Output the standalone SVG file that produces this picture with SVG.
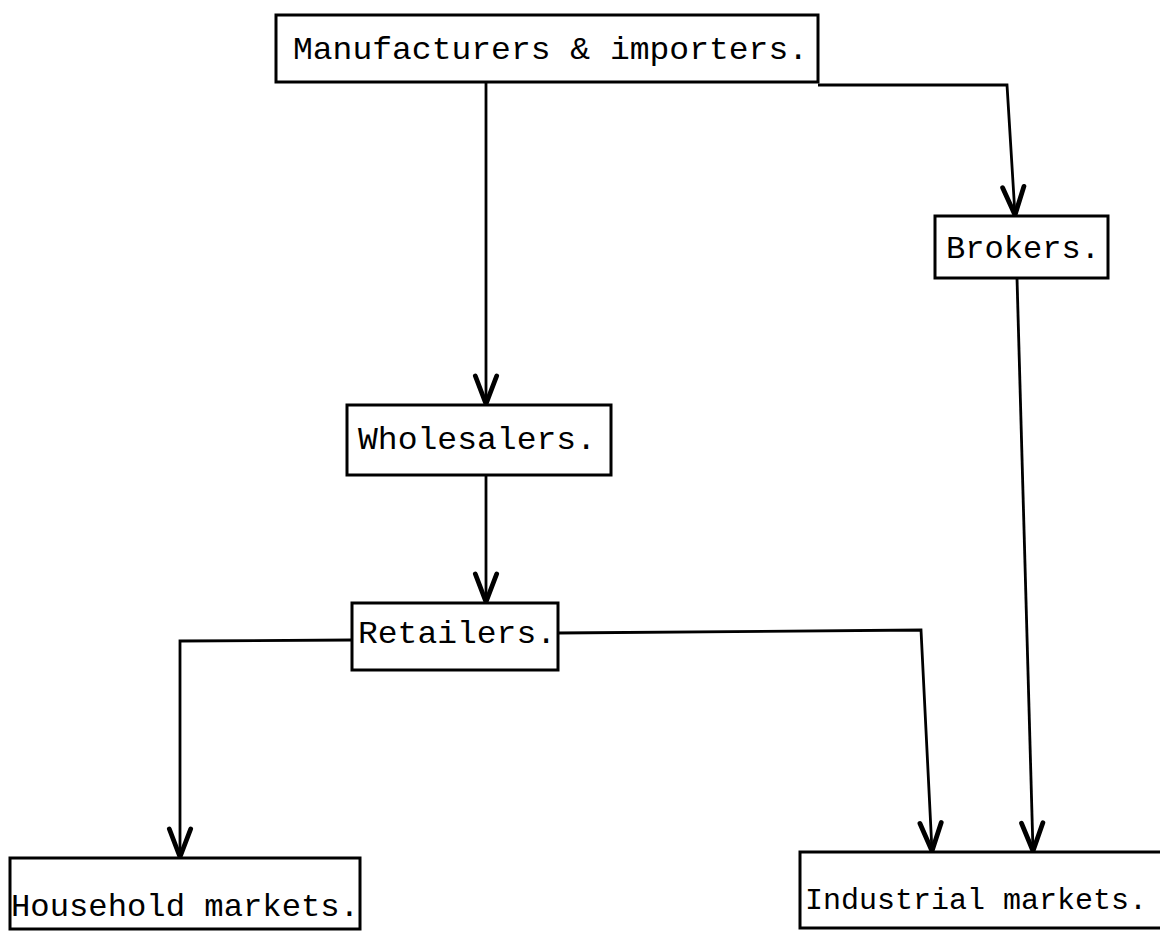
<svg xmlns="http://www.w3.org/2000/svg" width="1160" height="932" viewBox="0 0 1160 932">
  <defs>
    <style>
      .box { fill: #ffffff; stroke: #000000; stroke-width: 3; }
      .lbl { font-family: "Liberation Mono", "DejaVu Sans Mono", monospace; font-size: 32px; fill: #000000; }
      .conn { fill: none; stroke: #000000; stroke-width: 2.8; stroke-linejoin: miter; }
    </style>
    <marker id="arrow" markerUnits="userSpaceOnUse" markerWidth="40" markerHeight="40" refX="0" refY="0" viewBox="-25 -15 30 30" orient="auto">
      <path d="M -21,-8 L 0,0 L -21,8" fill="none" stroke="#000000" stroke-width="3.6" stroke-linecap="round" stroke-linejoin="round"/>
    </marker>
  </defs>
  <rect width="1160" height="932" fill="#ffffff"/>

  <g id="connectors">
    <path class="conn" d="M 486,82 L 486,404" marker-end="url(#arrow)"/>
    <path class="conn" d="M 818,85 L 1007,85 L 1015,215" marker-end="url(#arrow)"/>
    <path class="conn" d="M 486,475 L 486,602" marker-end="url(#arrow)"/>
    <path class="conn" d="M 352,640 L 180,641 L 180,857" marker-end="url(#arrow)"/>
    <path class="conn" d="M 558,633 L 921,630 L 932,851" marker-end="url(#arrow)"/>
    <path class="conn" d="M 1017,278 L 1033,851" marker-end="url(#arrow)"/>
  </g>

  <g id="manufacturers">
    <rect class="box" x="276" y="15" width="542" height="67"/>
    <text class="lbl" x="293" y="59" textLength="515" lengthAdjust="spacingAndGlyphs">Manufacturers &amp; importers.</text>
  </g>
  <g id="brokers">
    <rect class="box" x="935" y="216" width="173" height="62"/>
    <text class="lbl" x="946" y="258" textLength="154" lengthAdjust="spacingAndGlyphs">Brokers.</text>
  </g>
  <g id="wholesalers">
    <rect class="box" x="347" y="405" width="264" height="70"/>
    <text class="lbl" x="358" y="449" textLength="238" lengthAdjust="spacingAndGlyphs">Wholesalers.</text>
  </g>
  <g id="retailers">
    <rect class="box" x="352" y="603" width="206" height="67"/>
    <text class="lbl" x="358" y="643" textLength="198" lengthAdjust="spacingAndGlyphs">Retailers.</text>
  </g>
  <g id="household">
    <rect class="box" x="10" y="858" width="350" height="71"/>
    <text class="lbl" x="11" y="916" textLength="348" lengthAdjust="spacingAndGlyphs">Household markets.</text>
  </g>
  <g id="industrial">
    <rect class="box" x="800" y="852" width="370" height="76"/>
    <text class="lbl" x="805" y="909" style="font-size:30px">Industrial markets.</text>
  </g>
</svg>
